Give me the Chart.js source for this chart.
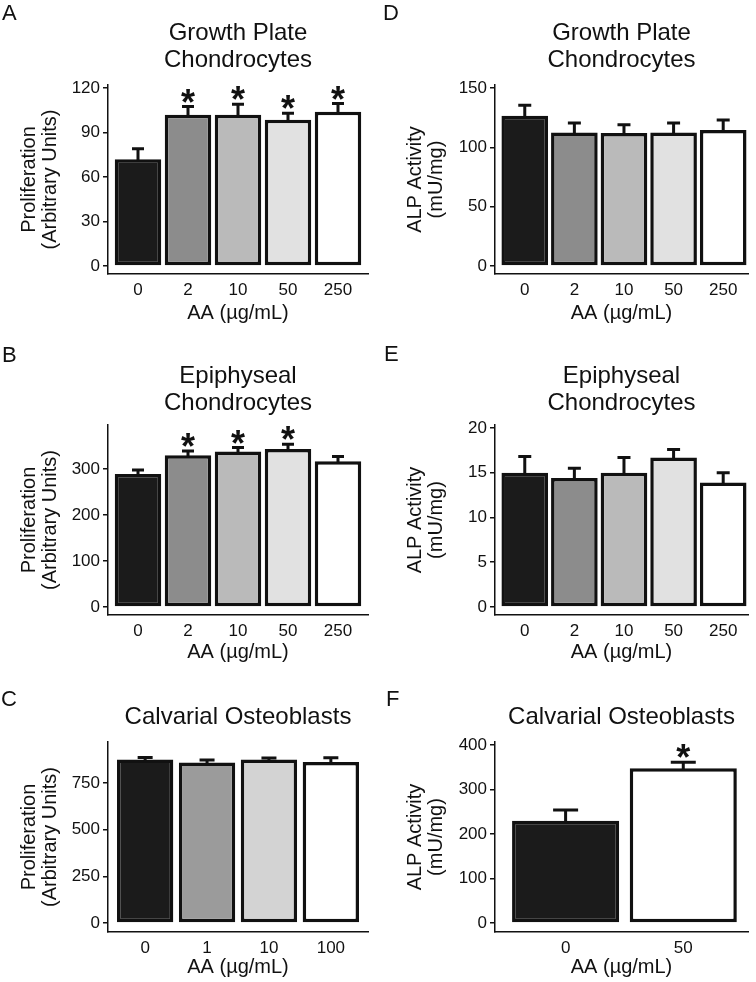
<!DOCTYPE html>
<html>
<head>
<meta charset="utf-8">
<script src="https://cdn.jsdelivr.net/npm/chart.js@4.4.1/dist/chart.umd.min.js"></script>
<style>
    body { margin: 0; background: #fff; }
    #fig { position: relative; width: 756px; height: 982px; overflow: hidden; font-family: "Liberation Sans", Arial, sans-serif; }
    #fig canvas { position: absolute; }
    .lbl { position: absolute; font-size: 22px; line-height: 22px; color: #111; }
</style>
</head>
<body>
<div id="fig">
    <canvas id="cA" width="378" height="330" style="left:0;top:0"></canvas>
    <canvas id="cD" width="378" height="330" style="left:378px;top:0"></canvas>
    <canvas id="cB" width="378" height="340" style="left:0;top:330px"></canvas>
    <canvas id="cE" width="378" height="340" style="left:378px;top:330px"></canvas>
    <canvas id="cC" width="378" height="312" style="left:0;top:670px"></canvas>
    <canvas id="cF" width="378" height="312" style="left:378px;top:670px"></canvas>
    <div class="lbl" style="left:2px;top:2px">A</div>
    <div class="lbl" style="left:383px;top:2px">D</div>
    <div class="lbl" style="left:2px;top:344px">B</div>
    <div class="lbl" style="left:384px;top:343px">E</div>
    <div class="lbl" style="left:1px;top:688px">C</div>
    <div class="lbl" style="left:386px;top:688px">F</div>
</div>
<script>
// x categories, AA in µg/mL
const doseChondro = ['0', '2', '10', '50', '250'];
const doseOsteo = ['0', '1', '10', '100'];
const doseOsteoAlp = ['0', '50'];

// A - growth plate chondrocytes, proliferation
const gpProlif = [72, 102, 102, 98.5, 104];
const gpProlifSem = [7, 5.5, 7, 4.5, 5.5];
const gpProlifStar = [false, true, true, true, true];
const gpProlifTicks = [0, 30, 60, 90, 120];

// B - epiphyseal chondrocytes, proliferation
const epiProlif = [289, 330, 338, 343.5, 317];
const epiProlifSem = [9, 9, 8.5, 10.5, 10];
const epiProlifStar = [false, true, true, true, false];
const epiProlifTicks = [0, 100, 200, 300];

// C - calvarial osteoblasts, proliferation
const calProlif = [876, 860, 876, 863];
const calProlifSem = [11, 13, 8, 22];
const calProlifStar = [false, false, false, false];
const calProlifTicks = [0, 250, 500, 750];

// D - growth plate chondrocytes, ALP
const gpAlp = [126.5, 112.5, 112, 112.5, 114.5];
const gpAlpSem = [9, 8, 7, 8, 8.5];
const gpAlpStar = [false, false, false, false, false];
const gpAlpTicks = [0, 50, 100, 150];

// E - epiphyseal chondrocytes, ALP
const epiAlp = [15.0, 14.4, 15.0, 16.7, 13.9];
const epiAlpSem = [1.8, 1.1, 1.7, 0.9, 1.1];
const epiAlpStar = [false, false, false, false, false];
const epiAlpTicks = [0, 5, 10, 15, 20];

// F - calvarial osteoblasts, ALP
const calAlp = [230, 348];
const calAlpSem = [24, 13];
const calAlpStar = [false, true];
const calAlpTicks = [0, 100, 200, 300, 400];

const grays5 = ['#1b1b1b', '#8c8c8c', '#bababa', '#e1e1e1', '#ffffff'];
const grays4 = ['#1b1b1b', '#9b9b9b', '#d3d3d3', '#ffffff'];
const grays2 = ['#1b1b1b', '#ffffff'];

Chart.defaults.font.family = '"Liberation Sans", Arial, sans-serif';
Chart.defaults.color = '#111';

// upper error whisker + significance star
const errBarPlugin = {
    id: 'errBars',
    afterDatasetsDraw(chart, args, opts) {
        const ctx = chart.ctx;
        const meta = chart.getDatasetMeta(0);
        const ys = chart.scales.y;
        const data = chart.data.datasets[0].data;
        ctx.save();
        ctx.strokeStyle = '#111';
        ctx.fillStyle = '#111';
        ctx.lineWidth = 3;
        meta.data.forEach(function (el, i) {
            const v = data[i].y;
            const yTop = ys.getPixelForValue(v);
            const yErr = ys.getPixelForValue(v + opts.sem[i]);
            ctx.beginPath();
            ctx.moveTo(el.x, yTop + 1.5);
            ctx.lineTo(el.x, yErr);
            ctx.moveTo(el.x - opts.cap / 2, yErr);
            ctx.lineTo(el.x + opts.cap / 2, yErr);
            ctx.stroke();
            if (opts.stars[i]) {
                ctx.font = 'bold 36px "Liberation Sans", Arial, sans-serif';
                ctx.textAlign = 'center';
                ctx.textBaseline = 'alphabetic';
                ctx.fillText('*', el.x, yErr + 8);
            }
        });
        ctx.restore();
    }
};

function makePanel(p) {
    const TITLE_LH = 27, YT_LH = 21, XT_LH = 22;
    const titlePadTop = p.titleY - p.top - TITLE_LH / 2;
    const titlePadBottom = (p.area.top - p.top) - titlePadTop - p.title.length * TITLE_LH;
    const yTitlePad = p.yTitleX - p.left - YT_LH / 2;
    const xTitlePad = (p.top + p.height) - p.xTitleY - XT_LH / 2;
    const labels = p.labels;

    new Chart(document.getElementById(p.id), {
        type: 'bar',
        data: {
            datasets: [{
                data: p.values.map(function (v, i) { return { x: i, y: v }; }),
                backgroundColor: p.colors,
                borderColor: '#111',
                borderWidth: 3.5,
                borderSkipped: false,
                barPercentage: 1,
                categoryPercentage: p.barPct
            }]
        },
        options: {
            responsive: false,
            animation: false,
            devicePixelRatio: 1,
            layout: { padding: { left: 0, top: 0, bottom: 0, right: p.left + p.width - p.area.right } },
            plugins: {
                legend: { display: false },
                tooltip: { enabled: false },
                title: {
                    display: true,
                    fullSize: false,
                    text: p.title,
                    color: '#111',
                    font: { size: 24, weight: 'normal', lineHeight: TITLE_LH + 'px' },
                    padding: { top: titlePadTop, bottom: titlePadBottom }
                },
                errBars: { sem: p.sem, stars: p.stars, cap: p.cap }
            },
            scales: {
                x: {
                    type: 'linear',
                    min: -0.6,
                    max: p.xmax,
                    offset: false,
                    grid: { display: false, drawTicks: false },
                    border: { display: true, color: '#111', width: 1.5 },
                    ticks: {
                        padding: 6,
                        color: '#111',
                        font: { size: 17 },
                        callback: function (v) { return labels[v] !== undefined ? labels[v] : ''; }
                    },
                    afterBuildTicks: function (s) { s.ticks = labels.map(function (_, i) { return { value: i }; }); },
                    afterFit: function (s) { s.height = p.top + p.height - p.area.bottom; },
                    title: {
                        display: true,
                        text: 'AA (µg/mL)',
                        color: '#111',
                        font: { size: 20, lineHeight: XT_LH + 'px' },
                        padding: { top: 0, bottom: xTitlePad }
                    }
                },
                y: {
                    min: p.ymin,
                    max: p.ymax,
                    grid: { display: true, drawOnChartArea: false, drawTicks: true, tickLength: 5, color: '#111', lineWidth: 1.5 },
                    border: { display: true, color: '#111', width: 1.5 },
                    ticks: { padding: 3, color: '#111', font: { size: 17 } },
                    afterBuildTicks: function (s) { s.ticks = p.yticks.map(function (v) { return { value: v }; }); },
                    afterFit: function (s) { s.width = p.area.left - p.left; },
                    title: {
                        display: true,
                        text: p.yTitle,
                        color: '#111',
                        font: { size: 20, lineHeight: YT_LH + 'px' },
                        padding: { top: yTitlePad, bottom: 0 }
                    }
                }
            }
        },
        plugins: [errBarPlugin]
    });
}

const prolifTitle = ['Proliferation', '(Arbitrary Units)'];
const alpTitle = ['ALP Activity', '(mU/mg)'];

makePanel({
    id: 'cA', left: 0, top: 0, width: 378, height: 330,
    area: { left: 108, right: 368, top: 85, bottom: 274 },
    title: ['Growth Plate', 'Chondrocytes'], titleY: 33.5,
    yTitle: prolifTitle, yTitleX: 29.5, xTitleY: 313,
    ymin: -5.4, ymax: 122, yticks: gpProlifTicks,
    labels: doseChondro, values: gpProlif, sem: gpProlifSem, stars: gpProlifStar,
    colors: grays5, xmax: 4.6, barPct: 0.93, cap: 12
});

makePanel({
    id: 'cD', left: 378, top: 0, width: 378, height: 330,
    area: { left: 495, right: 748, top: 85, bottom: 274 },
    title: ['Growth Plate', 'Chondrocytes'], titleY: 33.5,
    yTitle: alpTitle, yTitleX: 415, xTitleY: 313,
    ymin: -6.7, ymax: 152.5, yticks: gpAlpTicks,
    labels: doseChondro, values: gpAlp, sem: gpAlpSem, stars: gpAlpStar,
    colors: grays5, xmax: 4.5, barPct: 0.94, cap: 13
});

makePanel({
    id: 'cB', left: 0, top: 330, width: 378, height: 340,
    area: { left: 108, right: 368, top: 425, bottom: 615 },
    title: ['Epiphyseal', 'Chondrocytes'], titleY: 376,
    yTitle: prolifTitle, yTitleX: 29.5, xTitleY: 652,
    ymin: -17.4, ymax: 395.6, yticks: epiProlifTicks,
    labels: doseChondro, values: epiProlif, sem: epiProlifSem, stars: epiProlifStar,
    colors: grays5, xmax: 4.6, barPct: 0.93, cap: 12
});

makePanel({
    id: 'cE', left: 378, top: 330, width: 378, height: 340,
    area: { left: 495, right: 748, top: 425, bottom: 615 },
    title: ['Epiphyseal', 'Chondrocytes'], titleY: 376,
    yTitle: alpTitle, yTitleX: 415, xTitleY: 652,
    ymin: -0.9, ymax: 20.33, yticks: epiAlpTicks,
    labels: doseChondro, values: epiAlp, sem: epiAlpSem, stars: epiAlpStar,
    colors: grays5, xmax: 4.5, barPct: 0.94, cap: 13
});

makePanel({
    id: 'cC', left: 0, top: 670, width: 378, height: 312,
    area: { left: 108, right: 368, top: 742, bottom: 932 },
    title: ['Calvarial Osteoblasts'], titleY: 717,
    yTitle: prolifTitle, yTitleX: 29, xTitleY: 967,
    ymin: -48, ymax: 970, yticks: calProlifTicks,
    labels: doseOsteo, values: calProlif, sem: calProlifSem, stars: calProlifStar,
    colors: grays4, xmax: 3.6, barPct: 0.91, cap: 15
});

makePanel({
    id: 'cF', left: 378, top: 670, width: 378, height: 312,
    area: { left: 495, right: 748, top: 742, bottom: 932 },
    title: ['Calvarial Osteoblasts'], titleY: 717.5,
    yTitle: alpTitle, yTitleX: 415, xTitleY: 967,
    ymin: -20, ymax: 406.7, yticks: calAlpTicks,
    labels: doseOsteoAlp, values: calAlp, sem: calAlpSem, stars: calAlpStar,
    colors: grays2, xmax: 1.55, barPct: 0.91, cap: 25
});
</script>
</body>
</html>
